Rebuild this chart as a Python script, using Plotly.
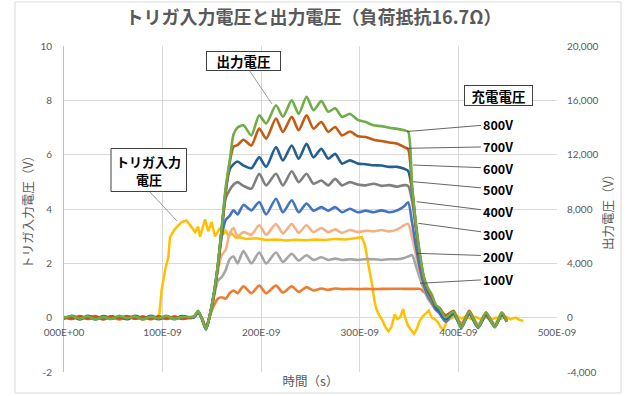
import plotly.graph_objects as go

# ---------------- data ----------------
# time axis of the output-voltage curves (ns)
T_OUT = [0, 8, 16, 24, 32, 40, 48, 56, 64, 72, 80, 88, 96, 104, 112, 120, 128,
         132, 136, 140, 144, 148, 152, 156, 160, 164, 168, 172, 176,
         182, 190, 198, 205, 215, 222, 231, 238, 246, 253, 261, 268, 275, 282, 290, 298, 306, 314, 322, 330, 338, 345,
         349, 353, 357, 361, 365, 369, 373, 377, 381,
         387, 395, 403, 411, 420, 428, 437, 444, 449]

# output voltage (V), right axis
V_100 = [-60, 100, -120, 40, 120, -100, 60, -140, 80, 40, -120, 100, -60, 140, -80, 40, -40,
         60, 360, -80, -700, 150, 900, 1400, 1500, 1400, 1800, 2000, 1800,
         2300, 1800, 2360, 1800, 2360, 1850, 2300, 1900, 2250, 2000, 2150, 2050, 2150, 2100, 2120, 2100, 2120, 2100, 2120, 2120, 2130, 2120,
         2120, 2120, 2120, 2120, 1900, 1650, 1200, 800, 500,
         200, 300, -400, 350, -500, 300, -500, 250, -100]
V_200 = [0, 60, -40, 80, -60, 40, -80, 60, -40, 80, -60, 40, -80, 60, -40, 80, 20,
         40, 380, -60, -760, 200, 1500, 2700, 3000, 3500, 4300, 4500, 4000,
         4900, 4000, 4800, 4000, 4800, 4100, 4700, 4200, 4600, 4250, 4450, 4250, 4350, 4250, 4300, 4250, 4300, 4300, 4250, 4300, 4300, 4400,
         4500, 4600, 3800, 2900, 2100, 1400, 1000, 600, 400,
         100, 300, -500, 300, -550, 250, -500, 250, -100]
V_300 = [40, -40, 60, -80, 40, -60, 80, -40, 60, -80, 40, -60, 80, -40, 60, -40, 0,
         60, 420, -80, -800, 200, 1600, 3400, 4600, 5000, 6200, 6600, 6000,
         6300, 6100, 6800, 6100, 6900, 6200, 6900, 6250, 6800, 6300, 6600, 6300, 6500, 6250, 6450, 6300, 6400, 6350, 6450, 6350, 6500, 6800,
         6900, 5900, 4600, 3300, 2300, 1500, 1000, 600, 400,
         0, 350, -550, 350, -600, 300, -550, 300, -150]
V_400 = [-80, 140, -40, 60, -140, 120, -60, 100, -80, 60, -100, 140, -40, 80, -120, 100, -20,
         40, 420, -100, -850, 200, 1700, 3700, 6000, 7200, 7500, 7900, 7600,
         8300, 7900, 8520, 7600, 8760, 7760, 8640, 7760, 8400, 7880, 8140, 7880, 8140, 7760, 8020, 7760, 7880, 7760, 7900, 7760, 7900, 8200,
         8500, 7000, 5200, 3600, 2400, 1600, 1100, 600, 300,
         -300, 300, -650, 250, -700, 150, -650, 200, -200]
V_500 = [20, -60, 80, -100, 60, -40, 100, -80, 40, -60, 80, -40, 60, -100, 40, -60, 20,
         60, 450, -80, -820, 220, 1750, 3800, 6500, 8800, 9400, 9800, 9980,
         9700, 9500, 10600, 9740, 10600, 9740, 10780, 9980, 10600, 9860, 10100, 9740, 10220, 9740, 9980, 9800, 9740, 9860, 9700, 9760, 9640, 9760,
         9700, 8600, 6500, 4300, 2800, 1800, 1200, 760, 700,
         -200, 250, -600, 300, -700, 200, -600, 250, -250]
V_600 = [-40, 80, -120, 140, -60, 100, -80, 60, -120, 140, -40, 100, -120, 80, -60, 120, 0,
         60, 400, -120, -860, 180, 1700, 3800, 6500, 9300, 10900, 11300, 11500,
         11200, 11000, 11800, 11100, 12560, 11580, 12680, 11700, 12800, 11800, 12440, 11700, 12060, 11340, 11580, 11340, 11300, 11220, 11200, 11100, 11100, 10960,
         10800, 9400, 6700, 4500, 2900, 2000, 1500, 800, 500,
         -100, 350, -750, 350, -750, 300, -700, 250, -300]
V_700 = [60, -100, 120, -60, 80, -140, 100, -40, 120, -80, 60, -120, 100, -60, 80, -100, 20,
         80, 450, -60, -800, 200, 1700, 3800, 6500, 9300, 11400, 12600, 12700,
         13100, 12680, 13920, 13180, 14660, 13680, 14780, 13800, 14900, 13920, 14400, 13680, 14040, 13420, 13700, 13350, 13300, 13100, 13000, 12900, 12800, 12560,
         12400, 9500, 6700, 4500, 2900, 2100, 1600, 900, 700,
         150, 500, -650, 500, -700, 350, -650, 350, -250]
V_800 = [0, 120, -80, 100, -120, 60, -100, 140, -60, 100, -140, 80, -60, 120, -100, 60, 40,
         100, 500, -100, -840, 240, 1800, 3900, 6700, 9600, 11500, 13500, 14000,
         14160, 13420, 14900, 14300, 15640, 14800, 16000, 15000, 16260, 15280, 15940, 15160, 15420, 14780, 15000, 14560, 14400, 14160, 14100, 13980, 13900, 13800,
         13700, 9800, 6900, 4700, 3000, 2200, 1700, 960, 660,
         20, 440, -720, 440, -720, 400, -700, 400, -300]

# trigger input voltage (V), left axis
T_TRIG = [0, 8, 16, 24, 32, 40, 48, 56, 64, 72, 80, 88, 94, 96.7, 99, 102.4, 105.8, 107.5, 112.6, 116,
          119.4, 124.4, 127.8, 130.5, 133, 136, 138, 140.5, 143, 146.3, 149.8, 153, 155, 158, 161, 164,
          167, 170, 174, 178.5, 185, 195, 205, 215, 225, 235, 245, 255, 265, 275, 285, 295, 302, 305,
          307.5, 310, 312.5, 315, 317, 320, 323, 326, 329, 332, 335.5, 338, 341, 344, 346, 349, 352, 355,
          358, 361, 364, 367, 370, 373, 376, 379, 382, 385, 388, 391, 394, 398, 403, 408, 413, 418, 423,
          428, 433, 438, 443, 448, 453, 458, 462, 466]
V_TRIG = [0.0, 0.04, -0.03, 0.03, -0.02, 0.03, -0.04, 0.02, 0.04, -0.03, 0.02, -0.02, 0.02, 0.14, 1.0, 1.73, 2.22, 2.96, 3.27, 3.4,
          3.52, 3.58, 3.42, 3.25, 3.15, 3.35, 2.98, 3.3, 3.62, 3.18, 3.52, 3.0, 3.1, 3.3, 3.05, 3.2,
          3.0, 3.1, 2.95, 2.96, 2.9, 2.92, 2.86, 2.88, 2.84, 2.87, 2.85, 2.88, 2.86, 2.9, 2.88, 2.92, 2.96, 2.7,
          2.2, 1.8, 1.2, 0.6, 0.3, 0.07, -0.1, -0.35, -0.5, -0.35, 0.12, -0.05, 0.02, 0.32, 0.0, -0.3, -0.45, -0.6,
          -0.4, -0.1, 0.05, 0.15, 0.26, 0.0, -0.05, -0.15, -0.35, -0.45, -0.15, -0.05, 0.0, 0.07, -0.03, 0.05, -0.05, 0.03, -0.06,
          0.02, -0.08, 0.0, -0.05, 0.04, -0.06, 0.0, -0.08, -0.12]

SERIES_NAMES = ["100V", "200V", "300V", "400V", "500V", "600V", "700V", "800V"]
SERIES_VALUES = [V_100, V_200, V_300, V_400, V_500, V_600, V_700, V_800]

X_TICKS = [0, 100, 200, 300, 400, 500]
X_TICK_LABELS = ["000E+00", "100E-09", "200E-09", "300E-09", "400E-09", "500E-09"]
Y1_TICKS = [-2, 0, 2, 4, 6, 8, 10]
Y1_TICK_LABELS = ["-2", "0", "2", "4", "6", "8", "10"]
Y2_TICKS = [-4000, 0, 4000, 8000, 12000, 16000, 20000]
Y2_TICK_LABELS = ["-4,000", "0", "4,000", "8,000", "12,000", "16,000", "20,000"]

assert len(T_TRIG) == len(V_TRIG)
for v in SERIES_VALUES:
    assert len(v) == len(T_OUT), len(v)

# ---------------- styles ----------------
COLORS = {"100V": "#ED7D31", "200V": "#A5A5A5", "300V": "#F4B183", "400V": "#4472C4",
          "500V": "#7F7F7F", "600V": "#255E91", "700V": "#C55A11", "800V": "#70AD47"}
TRIG_COLOR = "#FFC000"
GRID = "#d9d9d9"
TXT = "#595959"
CJK = "Noto Sans CJK JP"

W, H = 627, 396
L, R, T, B = 64, 557, 46, 372   # plot area in pixels


def px2x(px):
    return (px - L) / (R - L) * 500


def py2y(py):
    return 10 - (py - T) / (B - T) * 12


def ppx(px):
    return (px - L) / (R - L)


def ppy(py):
    return (B - py) / (B - T)


fig = go.Figure()
fig.add_trace(go.Scatter(x=T_TRIG, y=V_TRIG, mode="lines", name="トリガ入力電圧",
                         line=dict(color=TRIG_COLOR, width=2.5), yaxis="y"))
for name, vals in zip(SERIES_NAMES, SERIES_VALUES):
    fig.add_trace(go.Scatter(x=T_OUT, y=vals, mode="lines", name=name, yaxis="y2",
                             line=dict(color=COLORS[name], width=2.6, shape="spline", smoothing=0.7)))

annotations = []
shapes = []
# boxed callouts
annotations.append(dict(x=px2x(272), y=py2y(104), xref="x", yref="y", text="<b>出力電圧</b>",
                        showarrow=True, arrowhead=0, arrowwidth=0.8, arrowcolor="#808080",
                        ax=243 - 272, ay=61 - 104, bordercolor="#404040", borderwidth=1, borderpad=0,
                        bgcolor="white", width=73, height=18,
                        font=dict(family=CJK, size=13.5, color="black")))
# trigger callout: box + leader as shapes, two text lines as annotations
shapes.append(dict(type="line", xref="paper", yref="paper", x0=ppx(149.5), y0=ppy(191.5),
                   x1=ppx(177), y1=ppy(221), line=dict(color="#808080", width=0.8)))
shapes.append(dict(type="rect", xref="paper", yref="paper", x0=ppx(111), x1=ppx(186.5),
                   y0=ppy(191.5), y1=ppy(148.5), line=dict(color="#404040", width=1), fillcolor="white"))
annotations.append(dict(x=ppx(148.7), y=ppy(161), xref="paper", yref="paper", text="<b>トリガ入力</b>",
                        xanchor="center", yanchor="middle",
                        showarrow=False, font=dict(family=CJK, size=13, color="black")))
annotations.append(dict(x=ppx(148.7), y=ppy(179.5), xref="paper", yref="paper", text="<b>電圧</b>",
                        xanchor="center", yanchor="middle",
                        showarrow=False, font=dict(family=CJK, size=13, color="black")))
annotations.append(dict(x=px2x(498), y=py2y(95.5), xref="x", yref="y", text="<b>充電電圧</b>",
                        showarrow=False, bordercolor="#404040", borderwidth=1, borderpad=0,
                        bgcolor="white", width=67, height=19,
                        font=dict(family=CJK, size=13.5, color="black")))
# voltage labels with leader lines: (label y px, tip x px, tip y px)
LABEL_POS = {"800V": (124, 407, 131.5), "700V": (146.7, 407, 148.3), "600V": (168.3, 413, 165),
             "500V": (189.3, 413, 181.7), "400V": (211.7, 416.7, 201.7), "300V": (234, 418.3, 223.3),
             "200V": (256, 416.7, 253.3), "100V": (279, 420, 283.3)}
for name in SERIES_NAMES[::-1]:
    ly, tx, ty = LABEL_POS[name]
    annotations.append(dict(x=px2x(tx), y=py2y(ty), xref="x", yref="y", text="<b>%s</b>" % name,
                            showarrow=True, arrowhead=0, arrowwidth=0.8, arrowcolor="#404040",
                            ax=497.5 - tx, ay=ly - ty, borderpad=1,
                            font=dict(family=CJK, size=12.5, color="black")))

# outer chart border
shapes.append(dict(type="rect", xref="paper", yref="paper",
                   x0=ppx(15), x1=ppx(621), y0=ppy(393), y1=ppy(2),
                   line=dict(color=GRID, width=1), fillcolor="rgba(0,0,0,0)", layer="below"))

fig.update_layout(
    width=W, height=H,
    margin=dict(l=L, r=W - R, t=T, b=H - B, autoexpand=False),
    paper_bgcolor="white", plot_bgcolor="white", showlegend=False,
    font=dict(family=CJK, color=TXT),
    title=dict(text="<b>トリガ入力電圧と出力電圧（負荷抵抗16.7Ω）</b>", x=0.5, xref="container",
               y=1 - 18 / H, yref="container", yanchor="middle", xanchor="center",
               font=dict(family=CJK, size=18, color=TXT)),
    xaxis=dict(range=[0, 500], tickvals=X_TICKS, ticktext=X_TICK_LABELS, anchor="free", position=1 / 6,
               showgrid=True, gridcolor=GRID, gridwidth=1, zeroline=False, showline=False, ticks="",
               ticklabelstandoff=7,
               tickfont=dict(family="Lato", size=10, color=TXT),
               title=dict(text="時間（s）", font=dict(family=CJK, size=12.5, color=TXT), standoff=40)),
    yaxis=dict(range=[-2, 10], tickvals=Y1_TICKS, ticktext=Y1_TICK_LABELS, showgrid=True, gridcolor=GRID,
               zeroline=False, showline=True, linecolor="#bfbfbf", linewidth=1, ticks="",
               ticklabelstandoff=9, tickfont=dict(family="Lato", size=10, color=TXT),
               title=dict(text="トリガ入力電圧（V）", font=dict(family=CJK, size=12.5, color=TXT), standoff=4)),
    yaxis2=dict(range=[-4000, 20000], tickvals=Y2_TICKS, ticktext=Y2_TICK_LABELS, overlaying="y", side="right",
                anchor="x", showgrid=False, zeroline=False, showline=False, ticks="",
                ticklabelstandoff=9, tickfont=dict(family="Lato", size=10, color=TXT),
                title=dict(text="出力電圧（V）", font=dict(family=CJK, size=12.5, color=TXT), standoff=6)),
    annotations=annotations,
    shapes=shapes,
)

fig.write_html("out.html")
